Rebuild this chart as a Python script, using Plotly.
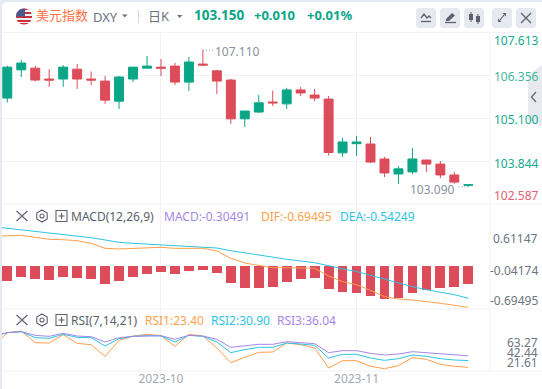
import math
import plotly.graph_objects as go

W, H = 542, 389
GREEN, RED = "#0aa687", "#dc4c5a"
ORANGE, CYAN, PURPLE = "#ff9f4d", "#2cc4e2", "#a587e8"
GRID = "#f2f3f8"
FONT = "Noto Sans, Noto Sans CJK SC"

# ---- data ----
opens = [105.70,106.53,106.58,106.26,106.26,106.55,106.26,106.20,105.61,106.26,106.58,106.61,106.64,106.17,106.70,
         106.50,106.23,105.09,105.29,105.585,105.53,105.94,105.79,105.67,104.09,104.36,104.35,103.91,103.47,103.53,
         103.88,103.76,103.44,103.14]
highs = [106.65,106.82,106.65,106.55,106.67,106.70,106.48,106.35,106.35,106.61,106.94,106.85,106.73,106.91,107.11,
         106.53,106.26,105.32,105.79,105.92,106.00,106.03,105.97,105.76,104.53,104.59,104.56,103.97,103.70,104.23,
         103.88,103.85,103.53,103.16]
lows = [105.57,106.32,106.19,106.03,106.03,105.97,106.08,105.53,105.38,106.17,106.58,106.35,106.08,105.91,106.64,
        105.82,104.94,104.85,105.26,105.47,105.38,105.76,105.61,104.01,103.97,104.00,103.79,103.38,103.18,103.47,
        103.53,103.35,103.18,103.09]
closes = [106.61,106.73,106.23,106.23,106.61,106.26,106.23,105.64,106.32,106.61,106.64,106.58,106.17,106.76,106.67,
          106.20,105.09,105.32,105.56,105.56,105.94,105.85,105.70,104.10,104.41,104.41,103.82,103.50,103.62,103.91,
          103.76,103.44,103.23,103.15]
macd_hist = [-0.252,-0.185,-0.218,-0.235,-0.185,-0.202,-0.218,-0.302,-0.252,-0.185,-0.134,-0.101,-0.134,-0.084,-0.067,
             -0.118,-0.286,-0.370,-0.370,-0.353,-0.269,-0.218,-0.202,-0.386,-0.437,-0.454,-0.504,-0.554,-0.538,-0.454,
             -0.403,-0.370,-0.353,-0.30491]
dif = [0.500,0.509,0.516,0.482,0.449,0.442,0.425,0.381,0.297,0.286,0.297,0.307,0.314,0.297,0.297,0.297,
       0.252,0.129,0.050,0.005,-0.029,-0.029,-0.029,-0.039,-0.168,-0.264,-0.314,-0.408,-0.516,-0.554,-0.571,
       -0.593,-0.627,-0.660,-0.69495]
dea = [0.660,0.633,0.605,0.576,0.549,0.533,0.504,0.475,0.437,0.398,0.381,0.370,0.358,0.341,0.331,0.324,
       0.302,0.257,0.218,0.180,0.146,0.113,0.084,0.055,0.005,-0.050,-0.092,-0.156,-0.218,-0.286,-0.348,
       -0.398,-0.437,-0.482,-0.54249]
rsi1 = [45.37,61.44,63.27,50.48,50.12,59.25,49.75,48.29,35.50,53.04,57.79,59.61,58.15,46.46,59.61,57.79,44.64,28.56,
        34.41,39.89,40.25,50.12,48.29,44.64,22.72,30.76,30.76,24.55,21.99,25.28,34.04,32.22,26.74,24.55,23.40]
rsi2 = [56.69,61.44,62.54,55.96,55.23,59.61,56.33,55.96,46.83,54.87,57.42,58.15,57.79,51.21,58.52,57.42,51.21,39.52,
        42.81,45.37,45.37,50.12,49.02,47.56,33.68,37.70,37.70,33.68,31.12,32.95,36.97,35.50,32.95,31.49,30.90]
rsi3 = [57.79,61.44,62.54,58.52,57.42,60.71,57.79,57.06,51.21,55.96,57.42,58.15,58.15,54.13,58.52,57.79,54.13,45.37,
        47.19,48.66,48.66,51.58,50.48,49.39,39.52,41.71,41.71,38.79,36.97,38.06,40.62,39.52,37.70,36.60,36.04]
date_ticks = [11, 25]
date_labels = ["2023-10", "2023-11"]
price_ticks = ["107.613", "106.356", "105.100", "103.844", "102.587"]
price_grid = [106.356, 105.100, 103.844]
macd_ticks = ["0.61147", "-0.04174", "-0.69495"]
rsi_ticks = ["63.27", "42.44", "21.61"]

idx = list(range(len(opens)))
line_idx = [-1] + idx

# ---- helpers ----
px = lambda x: x / W
py = lambda y: 1 - y / H
shapes, annots = [], []


def ann(text, x, y, color, size=12, anchor="left", bold=False):
    annots.append(dict(text=f"<b>{text}</b>" if bold else text, x=px(x), y=py(y), xref="paper", yref="paper",
                       xanchor=anchor, yanchor="middle", showarrow=False, borderpad=0, borderwidth=0,
                       font=dict(family=FONT, size=size, color=color)))


def path(d, fill=None, line=None, width=1, layer="above"):
    shapes.append(dict(type="path", path=d, xref="paper", yref="paper", layer=layer,
                       fillcolor=fill or "rgba(0,0,0,0)", line=dict(color=line or "rgba(0,0,0,0)", width=width)))


def P(points, close=True):
    s = " ".join(("M" if i == 0 else "L") + f"{px(a):.5f},{py(b):.5f}" for i, (a, b) in enumerate(points))
    return s + (" Z" if close else "")


def rect(x0, y0, x1, y1, fill, r=0, layer="above"):
    if r:
        pts = []
        for cx, cy, a0 in [(x1-r, y0+r, -90), (x1-r, y1-r, 0), (x0+r, y1-r, 90), (x0+r, y0+r, 180)]:
            for k in range(6):
                a = math.radians(a0 + 18*k)
                pts.append((cx + r*math.cos(a), cy + r*math.sin(a)))
        path(P(pts), fill=fill, layer=layer)
    else:
        path(P([(x0, y0), (x1, y0), (x1, y1), (x0, y1)]), fill=fill, layer=layer)


def seg(x0, y0, x1, y1, color, width=1, dash=None, layer="above"):
    shapes.append(dict(type="line", x0=px(x0), x1=px(x1), y0=py(y0), y1=py(y1), xref="paper", yref="paper", layer=layer,
                       line=dict(color=color, width=width, dash=dash or "solid")))


# card
rect(2, 2, W + 12, H + 12, "#ffffff", r=5, layer="below")
# pane separators
for yy in (33, 204, 309, 371):
    seg(2, yy - 0.5 if yy == 33 else yy, W, yy - 0.5 if yy == 33 else yy, GRID, layer="below")
seg(490, 33, 490, 371, GRID, layer="below")

# flag
cx, cy, r0 = 24, 16.5, 8
rows = [(8.5, 10, "#c8323f"), (10, 12, "#f4f0f2"), (12, 14, "#c8323f"), (14, 16, "#f4f0f2"), (16, 18, "#c8323f"),
        (18, 20, "#f4f0f2"), (20, 22, "#c8323f"), (22, 23, "#f4f0f2"), (23, 24.6, "#c8323f")]
for y0, y1, col in rows:
    pts = []
    steps = [y0 + (y1 - y0) * k / 4 for k in range(5)]
    for yy in steps:
        d = max(r0**2 - (yy - cy)**2, 0)**0.5
        pts.append((cx + d, yy))
    for yy in steps[::-1]:
        d = max(r0**2 - (yy - cy)**2, 0)**0.5
        pts.append((cx - d, yy))
    path(P(pts), fill=col)
pts = []
for k in range(9):
    yy = 8.5 + k
    pts.append((cx - max(r0**2 - (yy - cy)**2, 0)**0.5, yy))
path(P(pts + [(25, 16.5), (25, 8.6)]), fill="#4a5a8c")

# header
ann("美元指数", 36, 15, "#ff7043", 13)
ann("DXY", 92.5, 16.5, "#6e7380", 13)
path(P([(122, 14.5), (127.5, 14.5), (124.75, 17.5)]), fill="#6e7380")
seg(138.5, 10, 138.5, 23, "#d5d8e0")
ann("日K", 148, 15.5, "#6e7380", 13)
path(P([(177, 15), (182.5, 15), (179.75, 18)]), fill="#6e7380")
ann("103.150", 193.5, 15, GREEN, 13.5, bold=True)
ann("+0.010", 254, 15, GREEN, 13, bold=True)
ann("+0.01%", 307, 15, GREEN, 13, bold=True)

# toolbar buttons
ICON = "#5d6170"
for x0 in (416, 440, 464, 492, 516):
    rect(x0, 8, x0 + 20, 28, "#e6e9f0", r=3)
path(P([(421, 18), (424, 14), (427, 18), (429, 16), (431, 18)], close=False), line=ICON, width=1.3)
seg(421, 21.5, 431, 21.5, ICON, 1.3)
path(P([(446, 19), (452, 13), (455, 15.5), (449, 21), (446, 21)]), fill=ICON)
seg(445, 22.5, 456, 22.5, ICON, 1.3)
rect(469, 14, 473, 20, ICON); seg(471, 12, 471, 22, ICON)
rect(476, 16, 480, 22, ICON); seg(478, 14, 478, 24, ICON)
path(P([(498, 22), (498, 18.5), (501.5, 22)]), fill=ICON); path(P([(506, 13), (506, 16.5), (502.5, 13)]), fill=ICON)
seg(500, 20, 504, 15, ICON, 1.2)
seg(521, 13, 531, 23, ICON, 1.2); seg(531, 13, 521, 23, ICON, 1.2)

# right side handle
path(P([(W, 65), (528, 75), (528, 120), (W, 127)]), fill="#e9eaef")
path(P([(536, 92), (531.5, 97), (536, 102)], close=False), line="#6a6e7c", width=1.4)


def pane_icons(y):
    seg(16.5, y - 5, 27.5, y + 5, ICON, 1.1); seg(27.5, y - 5, 16.5, y + 5, ICON, 1.1)
    hexp = [(42 + 6*math.cos(math.radians(30 + 60*k)), y + 6*math.sin(math.radians(30 + 60*k))) for k in range(6)]
    path(P(hexp), line=ICON, width=1.1)
    shapes.append(dict(type="circle", x0=px(40), x1=px(44), y0=py(y + 2), y1=py(y - 2), xref="paper", yref="paper",
                       line=dict(color=ICON, width=1.1)))
    shapes.append(dict(type="rect", x0=px(56), x1=px(67), y0=py(y + 5.5), y1=py(y - 5.5), xref="paper", yref="paper",
                       line=dict(color=ICON, width=1.1)))
    seg(58.5, y, 64.5, y, ICON, 1.1); seg(61.5, y - 3, 61.5, y + 3, ICON, 1.1)


pane_icons(216)
ann("MACD(12,26,9)", 71, 216, "#5a5f6c", 12)
ann("MACD:-0.30491", 164, 216, PURPLE, 12)
ann("DIF:-0.69495", 261, 216, ORANGE, 12)
ann("DEA:-0.54249", 340, 216, CYAN, 12)
pane_icons(320)
ann("RSI(7,14,21)", 71, 320, "#5a5f6c", 12)
ann("RSI1:23.40", 145, 320, ORANGE, 12)
ann("RSI2:30.90", 211, 320, CYAN, 12)
ann("RSI3:36.04", 277, 320, PURPLE, 12)

# right-hand labels
AX = "#6e7380"
for t, yy, col in zip(price_ticks, (40, 76.5, 119, 163, 195.5), ("#14ab8e", "#3fb8a0", "#14ab8e", "#14ab8e", "#e2626f")):
    ann(t, 539, yy, col, 12, "right")
for t, yy in zip(macd_ticks, (238, 270, 300.5)):
    ann(t, 538, yy, AX, 12, "right")
for t, yy in zip(rsi_ticks, (342, 352.5, 362.5)):
    ann(t, 538, yy, AX, 12, "right")

# high / low marks
MARK = "#8b8f9c"
annots.append(dict(text="107.110", x=14, y=max(highs), xref="x", yref="y", xanchor="left", yanchor="middle", xshift=11,
                   yshift=-1, showarrow=False, borderpad=0, font=dict(family=FONT, size=12, color=MARK)))
annots.append(dict(text="103.090", x=33, y=min(lows), xref="x", yref="y", xanchor="right", yanchor="middle", xshift=-12,
                   yshift=-3, showarrow=False, borderpad=0, font=dict(family=FONT, size=12, color=MARK)))
shapes.append(dict(type="line", x0=14, x1=14.75, y0=max(highs), y1=max(highs), xref="x", yref="y",
                   line=dict(color=MARK, width=1, dash="1px,2px")))
shapes.append(dict(type="line", x0=32.3, x1=33, y0=min(lows), y1=min(lows), xref="x", yref="y",
                   line=dict(color=MARK, width=1, dash="1px,2px")))

# ---- figure ----
fig = go.Figure()
fig.add_trace(go.Candlestick(x=idx, open=opens, high=highs, low=lows, close=closes, xaxis="x", yaxis="y",
                             increasing=dict(line=dict(color=GREEN, width=1), fillcolor=GREEN),
                             decreasing=dict(line=dict(color=RED, width=1), fillcolor=RED),
                             whiskerwidth=0, showlegend=False, hoverinfo="skip"))
fig.add_trace(go.Bar(x=idx, y=macd_hist, xaxis="x2", yaxis="y2", width=0.7, marker=dict(color=RED, line=dict(width=0)),
                     showlegend=False, hoverinfo="skip"))
for vals, col in ((dea, CYAN), (dif, ORANGE)):
    fig.add_trace(go.Scatter(x=line_idx, y=vals, xaxis="x2", yaxis="y2", mode="lines", line=dict(color=col, width=1),
                             showlegend=False, hoverinfo="skip"))
for vals, col in ((rsi1, ORANGE), (rsi2, CYAN), (rsi3, PURPLE)):
    fig.add_trace(go.Scatter(x=line_idx, y=vals, xaxis="x3", yaxis="y3", mode="lines", line=dict(color=col, width=1),
                             showlegend=False, hoverinfo="skip"))

xrange = [(2 - 7.3) / 13.97, (490 - 7.3) / 13.97]
xdom = [px(2), px(490)]
xbase = dict(domain=xdom, range=xrange, type="linear", tickmode="array", tickvals=date_ticks, ticktext=date_labels,
             showgrid=True, gridcolor=GRID, gridwidth=1, zeroline=False, showline=False, ticks="",
             showticklabels=False, rangeslider=dict(visible=False), fixedrange=True)
ybase = dict(showgrid=False, zeroline=False, showline=False, ticks="", showticklabels=False, fixedrange=True)
fig.update_layout(
    width=W, height=H, margin=dict(l=0, r=0, t=0, b=0), paper_bgcolor="#e7eaf2", plot_bgcolor="rgba(0,0,0,0)",
    autosize=False, showlegend=False, boxgap=0.36, boxgroupgap=0, bargap=0,
    xaxis=dict(xbase, anchor="y"),
    xaxis2=dict(xbase, anchor="y2"),
    xaxis3=dict(xbase, anchor="y3", showticklabels=True, ticklabelstandoff=-1,
                tickfont=dict(family=FONT, size=12, color="#a4a8b6")),
    yaxis=dict(ybase, domain=[py(204), py(33)], range=[102.587, 107.613], anchor="x", showgrid=True, gridcolor=GRID,
               tickmode="array", tickvals=price_grid),
    yaxis2=dict(ybase, domain=[py(309), py(204)], range=[-0.7224, 1.0416], anchor="x2"),
    yaxis3=dict(ybase, domain=[py(371), py(309)], range=[19.43, 87.4], anchor="x3"),
    shapes=shapes, annotations=annots,
)
fig.write_html("out.html", config=dict(displayModeBar=False),
               post_script="document.body.style.margin='0';document.documentElement.style.overflow='hidden';")
